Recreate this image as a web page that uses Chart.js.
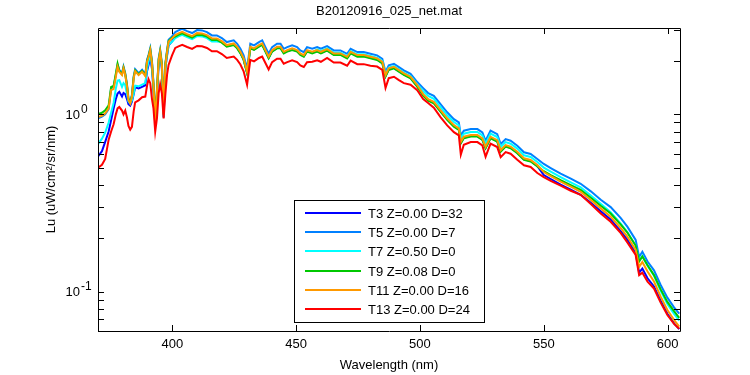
<!DOCTYPE html>
<html>
<head>
<meta charset="utf-8">
<title>B20120916_025_net.mat</title>
<script src="https://cdn.jsdelivr.net/npm/chart.js@4.4.1/dist/chart.umd.min.js"></script>
<style>
  html, body { margin: 0; padding: 0; background: #fff; }
  #wrap { width: 750px; height: 375px; }
</style>
</head>
<body>
<div id="wrap"><canvas id="specChart" width="750" height="375"></canvas></div>
<script>
// wavelength grid (nm)
const wavelengths = [
  370, 371.6, 372.9, 374.3, 375.3, 376.3, 377.2, 377.9, 378.6, 379.7,
  380.3, 381, 381.7, 382.3, 383, 383.7, 384.4, 385, 386.4, 387.8,
  389.1, 389.8, 390.4, 391.1, 391.8, 392.4, 393.1, 393.8, 394.5, 395.1,
  395.8, 396.5, 397.2, 397.9, 398.5, 399.9, 401.2, 402.5, 404, 406,
  408, 410, 412, 414, 416, 418, 420, 422, 424.8, 426.2,
  427.5, 428.8, 430.2, 431.5, 433, 435, 436.3, 437.6, 438.9, 440.3,
  442.3, 443.7, 445, 446.4, 448.4, 450.4, 451.7, 453.1, 454.4, 456.5,
  458.5, 460, 462.5, 465.2, 467.9, 470.6, 472, 474.7, 477.3, 480,
  482.7, 484.8, 486.1, 487.4, 489.5, 491.5, 493.5, 496.2, 498.9, 501.3,
  503.3, 505.6, 508.3, 511, 513.7, 515.7, 516.5, 517.7, 520.5, 523.2,
  525.2, 526.5, 528.5, 531.2, 532.6, 534.6, 536.6, 539.3, 542, 544.7,
  547.4, 550, 552.8, 556.8, 560.9, 564.9, 569, 573, 577, 581.1,
  583.8, 587.1, 588.5, 589.8, 591.9, 594.5, 597.2, 599.9, 602.6, 604.7
];

// Lu values per cast (uW/cm^2/sr/nm)
const t3 = [
  0.58, 0.62, 0.70, 0.80, 0.93, 1.08, 1.22, 1.31, 1.34, 1.26,
  1.32, 1.30, 1.22, 1.14, 1.12, 1.18, 1.30, 1.42, 1.40, 1.43,
  1.46, 1.75, 1.90, 2.10, 1.80, 1.38, 0.88, 1.28, 1.90, 2.15,
  1.80, 0.96, 1.82, 2.15, 2.45, 2.58, 2.763, 2.825, 2.884, 2.799,
  2.728, 2.835, 2.825, 2.763, 2.647, 2.647, 2.555, 2.427, 2.480, 2.374,
  2.225, 2.042, 1.716, 2.374, 2.324, 2.427, 2.480, 2.274, 2.085, 2.274,
  2.374, 2.374, 2.225, 2.274, 2.324, 2.274, 2.178, 2.131, 2.274, 2.225,
  2.274, 2.225, 2.304, 2.178, 2.178, 2.085, 2.225, 2.131, 2.131, 2.085,
  2.042, 1.954, 1.644, 1.793, 1.831, 1.754, 1.681, 1.608, 1.444, 1.284,
  1.204, 1.163, 1.043, 0.938, 0.859, 0.823, 0.692, 0.738, 0.754, 0.754,
  0.722, 0.648, 0.738, 0.707, 0.621, 0.662, 0.648, 0.608, 0.558, 0.546,
  0.511, 0.455, 0.432, 0.401, 0.376, 0.352, 0.317, 0.284, 0.255, 0.219,
  0.196, 0.165, 0.128, 0.135, 0.119, 0.107, 0.0890, 0.0750, 0.0662, 0.0615
];
const t5 = [
  0.95, 0.97, 1.00, 1.07, 1.407, 1.425, 1.671, 1.903, 1.784, 1.709,
  1.864, 1.709, 1.482, 1.235, 1.183, 1.290, 1.637, 1.800, 1.709, 1.784,
  1.687, 2.031, 2.159, 2.364, 1.989, 1.501, 0.932, 1.376, 2.077, 2.313,
  1.946, 1.017, 1.946, 2.313, 2.633, 2.752, 2.911, 2.976, 3.039, 2.949,
  2.875, 2.987, 2.976, 2.911, 2.789, 2.789, 2.693, 2.557, 2.614, 2.501,
  2.344, 2.152, 1.809, 2.501, 2.449, 2.557, 2.614, 2.396, 2.196, 2.396,
  2.501, 2.501, 2.344, 2.396, 2.449, 2.396, 2.295, 2.245, 2.396, 2.344,
  2.396, 2.344, 2.427, 2.295, 2.295, 2.196, 2.344, 2.245, 2.245, 2.196,
  2.152, 2.059, 1.733, 1.890, 1.929, 1.848, 1.771, 1.694, 1.522, 1.406,
  1.319, 1.273, 1.143, 1.027, 0.940, 0.902, 0.758, 0.809, 0.826, 0.826,
  0.791, 0.710, 0.809, 0.774, 0.680, 0.725, 0.710, 0.666, 0.611, 0.598,
  0.560, 0.525, 0.498, 0.463, 0.434, 0.406, 0.368, 0.330, 0.300, 0.260,
  0.232, 0.196, 0.157, 0.168, 0.148, 0.132, 0.109, 0.0925, 0.0815, 0.0752
];
const t7 = [
  0.68, 0.73, 0.79, 0.90, 1.02, 1.16, 1.40, 1.55, 1.56, 1.43,
  1.50, 1.46, 1.30, 1.18, 1.15, 1.20, 1.31, 1.45, 1.44, 1.47,
  1.50, 1.80, 1.98, 2.20, 1.86, 1.42, 0.90, 1.30, 1.96, 2.19,
  1.85, 0.97, 1.85, 2.19, 2.47, 2.57, 2.693, 2.753, 2.811, 2.728,
  2.659, 2.763, 2.753, 2.693, 2.580, 2.580, 2.563, 2.434, 2.488, 2.381,
  2.231, 2.048, 1.722, 2.381, 2.331, 2.434, 2.488, 2.281, 2.091, 2.281,
  2.381, 2.381, 2.231, 2.281, 2.331, 2.281, 2.185, 2.137, 2.281, 2.231,
  2.327, 2.277, 2.357, 2.229, 2.229, 2.133, 2.277, 2.181, 2.181, 2.133,
  2.090, 2.000, 1.683, 1.835, 1.874, 1.795, 1.720, 1.645, 1.478, 1.353,
  1.269, 1.225, 1.099, 0.988, 0.905, 0.867, 0.729, 0.778, 0.795, 0.795,
  0.761, 0.683, 0.778, 0.745, 0.654, 0.698, 0.683, 0.641, 0.588, 0.575,
  0.539, 0.501, 0.476, 0.442, 0.414, 0.388, 0.349, 0.313, 0.281, 0.242,
  0.216, 0.182, 0.149, 0.159, 0.140, 0.123, 0.101, 0.0851, 0.0748, 0.0686
];
const t9 = [
  1.005, 1.021, 1.054, 1.124, 1.426, 1.445, 1.694, 1.929, 1.756, 1.683,
  1.835, 1.683, 1.458, 1.216, 1.165, 1.270, 1.612, 1.772, 1.683, 1.756,
  1.660, 2.000, 2.125, 2.327, 1.958, 1.478, 0.917, 1.354, 2.044, 2.277,
  1.916, 1.001, 1.916, 2.277, 2.592, 2.709, 2.743, 2.805, 2.864, 2.779,
  2.709, 2.815, 2.805, 2.743, 2.628, 2.628, 2.537, 2.410, 2.463, 2.357,
  2.209, 2.028, 1.704, 2.357, 2.308, 2.410, 2.463, 2.258, 2.070, 2.258,
  2.357, 2.357, 2.209, 2.258, 2.308, 2.258, 2.163, 2.116, 2.258, 2.209,
  2.258, 2.209, 2.287, 2.163, 2.163, 2.070, 2.209, 2.116, 2.116, 2.070,
  2.028, 1.940, 1.633, 1.781, 1.818, 1.741, 1.669, 1.596, 1.434, 1.275,
  1.196, 1.154, 1.036, 0.931, 0.853, 0.817, 0.687, 0.733, 0.749, 0.749,
  0.717, 0.644, 0.733, 0.702, 0.616, 0.658, 0.644, 0.604, 0.554, 0.542,
  0.508, 0.478, 0.454, 0.425, 0.399, 0.375, 0.339, 0.305, 0.276, 0.239,
  0.215, 0.182, 0.148, 0.158, 0.141, 0.124, 0.103, 0.0875, 0.0776, 0.0711
];
const t11 = [
  0.966, 0.982, 1.013, 1.081, 1.371, 1.389, 1.629, 1.855, 1.739, 1.666,
  1.817, 1.666, 1.444, 1.204, 1.153, 1.257, 1.596, 1.754, 1.666, 1.739,
  1.644, 1.980, 2.104, 2.304, 1.939, 1.463, 0.908, 1.341, 2.024, 2.254,
  1.897, 0.991, 1.897, 2.254, 2.566, 2.682, 2.799, 2.862, 2.922, 2.836,
  2.764, 2.872, 2.862, 2.799, 2.682, 2.682, 2.589, 2.459, 2.513, 2.405,
  2.254, 2.069, 1.739, 2.405, 2.355, 2.459, 2.513, 2.304, 2.112, 2.304,
  2.405, 2.405, 2.254, 2.304, 2.355, 2.304, 2.207, 2.159, 2.304, 2.254,
  2.304, 2.254, 2.334, 2.207, 2.207, 2.112, 2.254, 2.159, 2.159, 2.112,
  2.069, 1.980, 1.666, 1.817, 1.855, 1.777, 1.703, 1.629, 1.463, 1.301,
  1.220, 1.178, 1.057, 0.950, 0.870, 0.834, 0.701, 0.748, 0.764, 0.764,
  0.732, 0.657, 0.748, 0.716, 0.629, 0.671, 0.657, 0.616, 0.565, 0.553,
  0.518, 0.473, 0.449, 0.417, 0.391, 0.366, 0.329, 0.295, 0.265, 0.228,
  0.204, 0.172, 0.138, 0.147, 0.130, 0.114, 0.0937, 0.0788, 0.0693, 0.0635
];
const t13 = [
  0.50, 0.52, 0.56, 0.72, 0.80, 0.88, 1.00, 1.08, 1.10, 1.05,
  1.00, 1.05, 0.96, 0.86, 0.82, 0.85, 1.04, 1.17, 1.20, 1.25,
  1.26, 1.45, 1.58, 1.50, 1.22, 1.08, 0.80, 0.95, 1.32, 1.48,
  1.31, 0.95, 1.30, 1.68, 1.90, 2.15, 2.37, 2.42, 2.47, 2.40,
  2.34, 2.43, 2.42, 2.37, 2.27, 2.27, 2.19, 2.08, 2.12, 2.03,
  1.91, 1.75, 1.47, 2.03, 1.99, 2.08, 2.12, 1.95, 1.79, 1.97,
  2.06, 2.06, 1.93, 1.97, 2.02, 1.97, 1.89, 1.85, 1.97, 1.98,
  2.02, 1.98, 2.08, 1.96, 1.96, 1.88, 2.01, 1.92, 1.92, 1.88,
  1.86, 1.78, 1.41, 1.60, 1.63, 1.56, 1.50, 1.47, 1.37, 1.22,
  1.16, 1.09, 0.965, 0.867, 0.794, 0.761, 0.592, 0.674, 0.698, 0.698,
  0.668, 0.577, 0.683, 0.654, 0.574, 0.613, 0.600, 0.555, 0.516, 0.505,
  0.467, 0.443, 0.421, 0.396, 0.371, 0.352, 0.312, 0.276, 0.248, 0.214,
  0.189, 0.161, 0.124, 0.128, 0.114, 0.104, 0.0867, 0.0738, 0.0658, 0.0618
];

const seriesLabels = [
  "T3 Z=0.00 D=32",
  "T5 Z=0.00 D=7",
  "T7 Z=0.50 D=0",
  "T9 Z=0.08 D=0",
  "T11 Z=0.00 D=16",
  "T13 Z=0.00 D=24"
];
const seriesValues = [t3, t5, t7, t9, t11, t13];
const seriesColors = ["#0000ff", "#0080ff", "#00ffff", "#00c800", "#ff9900", "#ff0000"];

const xTicks = [400, 450, 500, 550, 600];
const yTicks = [0.06, 0.07, 0.08, 0.09, 0.1, 0.2, 0.3, 0.4, 0.5, 0.6, 0.7, 0.8, 0.9, 1, 2, 3];
const yMajor = [1, 0.1];
const yExponents = ["0", "-1"];

const FONT = '"Liberation Sans", Arial, Helvetica, sans-serif';

// MATLAB-like box, inward ticks, 10^n labels and legend box
const matlabFrame = {
  id: "matlabFrame",
  afterDatasetsDraw(chart) {
    const ctx = chart.ctx;
    const a = chart.chartArea;
    const x = chart.scales.x;
    const y = chart.scales.y;
    ctx.save();
    ctx.strokeStyle = "#000";
    ctx.lineWidth = 1;
    ctx.beginPath();
    ctx.rect(Math.round(a.left) + 0.5, Math.round(a.top) + 0.5,
             Math.round(a.right - a.left), Math.round(a.bottom - a.top));
    xTicks.forEach(function (v) {
      const px = Math.round(x.getPixelForValue(v)) + 0.5;
      ctx.moveTo(px, a.bottom); ctx.lineTo(px, a.bottom - 6);
      ctx.moveTo(px, a.top); ctx.lineTo(px, a.top + 6);
    });
    yTicks.forEach(function (v) {
      const py = Math.round(y.getPixelForValue(v)) + 0.5;
      ctx.moveTo(a.left, py); ctx.lineTo(a.left + 6, py);
      ctx.moveTo(a.right, py); ctx.lineTo(a.right - 6, py);
    });
    ctx.stroke();

    // y tick labels as 10 with raised exponent
    ctx.fillStyle = "#000";
    ctx.textBaseline = "middle";
    yMajor.forEach(function (v, i) {
      const py = y.getPixelForValue(v);
      ctx.font = "13px " + FONT;
      ctx.textAlign = "right";
      ctx.fillText("10", a.left - 18, py + 1);
      ctx.font = "12px " + FONT;
      ctx.textAlign = "left";
      ctx.fillText(yExponents[i], a.left - 17, py - 5);
    });

    // legend
    const lx = 294, ly = 200, lw = 190, lh = 122;
    ctx.fillStyle = "#fff";
    ctx.fillRect(lx, ly, lw, lh);
    ctx.strokeStyle = "#000";
    ctx.lineWidth = 1;
    ctx.strokeRect(lx + 0.5, ly + 0.5, lw, lh);
    ctx.font = "13px " + FONT;
    ctx.textAlign = "left";
    ctx.textBaseline = "middle";
    chart.data.datasets.forEach(function (ds, i) {
      const yy = Math.round(ly + 13 + i * 19.2);
      ctx.fillStyle = seriesColors[i];
      ctx.fillRect(lx + 11, yy - 1, 56, 2);
      ctx.fillStyle = "#000";
      ctx.fillText(ds.label, lx + 74, yy + 1);
    });
    ctx.restore();
  }
};

const ctx = document.getElementById("specChart").getContext("2d");
new Chart(ctx, {
  type: "line",
  data: {
    datasets: seriesLabels.map(function (name, k) {
      return {
        label: name,
        data: wavelengths.map(function (w, i) { return { x: w, y: seriesValues[k][i] }; }),
        borderColor: seriesColors[k],
        backgroundColor: seriesColors[k],
        borderWidth: 2,
        pointRadius: 0,
        tension: 0,
        fill: false,
        order: seriesLabels.length - k
      };
    })
  },
  options: {
    responsive: false,
    animation: false,
    events: [],
    layout: { padding: { left: 0, right: 70, top: 0, bottom: 0 } },
    plugins: {
      legend: { display: false },
      tooltip: { enabled: false },
      title: {
        display: true,
        fullSize: false,
        text: "B20120916_025_net.mat",
        color: "#000",
        font: { family: FONT, size: 13, weight: "normal" },
        padding: { top: 4, bottom: 8.4 }
      }
    },
    scales: {
      x: {
        type: "linear",
        min: 370,
        max: 605,
        grid: { display: false, drawTicks: false },
        border: { display: false },
        afterBuildTicks: function (scale) {
          scale.ticks = xTicks.map(function (v) { return { value: v }; });
        },
        afterFit: function (scale) { scale.height = 44; },
        ticks: {
          color: "#000",
          padding: 6,
          maxRotation: 0,
          font: { family: FONT, size: 13 },
          callback: function (v) { return String(v); }
        },
        title: {
          display: true,
          text: "Wavelength (nm)",
          color: "#000",
          font: { family: FONT, size: 13 },
          padding: { top: 0, bottom: 2 }
        }
      },
      y: {
        type: "logarithmic",
        min: 0.06,
        max: 3.07,
        grid: { display: false, drawTicks: false },
        border: { display: false },
        afterBuildTicks: function (scale) {
          scale.ticks = yTicks.map(function (v) { return { value: v }; });
        },
        afterFit: function (scale) { scale.width = 98; },
        ticks: { callback: function () { return ""; } },
        title: {
          display: true,
          text: "Lu (uW/cm\u00b2/sr/nm)",
          color: "#000",
          font: { family: FONT, size: 13 },
          padding: { top: 44, bottom: 0 }
        }
      }
    }
  },
  plugins: [matlabFrame]
});
</script>
</body>
</html>
